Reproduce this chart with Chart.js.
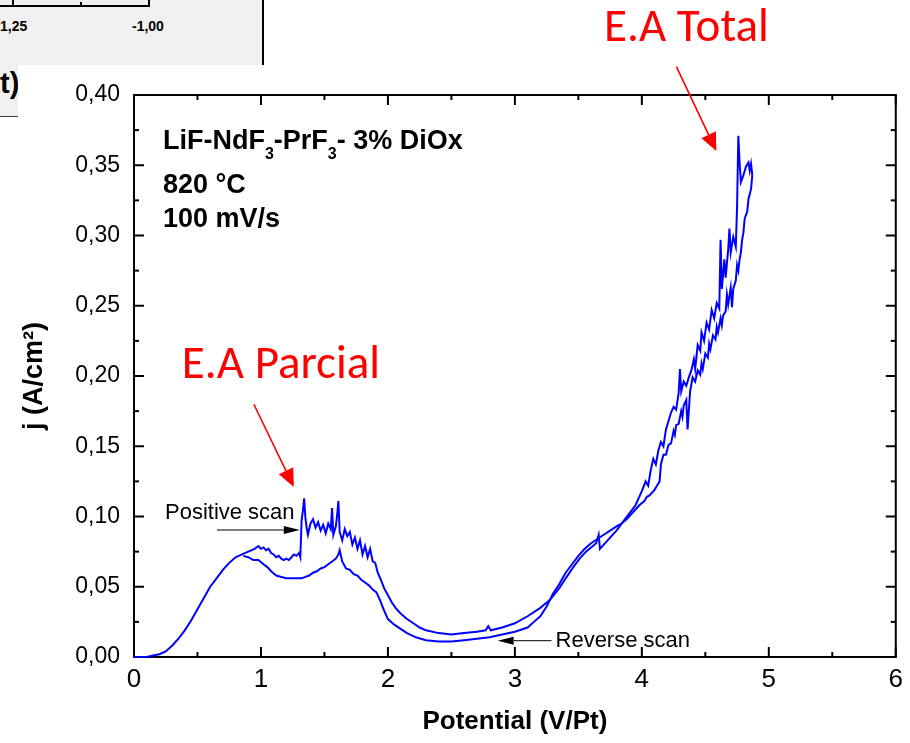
<!DOCTYPE html>
<html>
<head>
<meta charset="utf-8">
<title>LiF-NdF3-PrF3 voltammogram</title>
<script src="https://cdn.jsdelivr.net/npm/chart.js@4.4.0/dist/chart.umd.min.js"></script>
<style>
  body { margin: 0; background: #fff; }
  #wrap { position: relative; width: 910px; height: 743px; overflow: hidden; }
  #cvChart { position: absolute; left: 0; top: 0; }
  .frag { position: absolute; background: #f0f0f0; overflow: hidden; font-family: "Liberation Sans", Arial, sans-serif; font-weight: bold; color: #000; }
  .frag-top { left: 0; top: 0; width: 262px; height: 65px; border-right: 2px solid #000; }
  .frag-axis { position: absolute; left: 0; top: 5px; width: 150px; height: 2px; background: #000; }
  .frag-tick { position: absolute; top: 0; width: 2px; height: 7px; background: #000; }
  .frag-lbl { position: absolute; top: 18px; font-size: 14px; }
  .frag-side { left: 0; top: 65px; width: 18px; height: 51px; border-bottom: 1px solid #444; }
  .frag-side span { position: absolute; left: 0; top: 2px; font-size: 29px; }
</style>
</head>
<body>
<div id="wrap">
  <canvas id="cvChart" width="910" height="743"></canvas>
  <!-- edge of the neighbouring figure that was caught in the screenshot -->
  <div class="frag frag-top">
    <div class="frag-axis"></div>
    <span class="frag-tick" style="left:12px"></span>
    <span class="frag-tick" style="left:80px; top:2px; height:5px"></span>
    <span class="frag-tick" style="left:148px"></span>
    <span class="frag-lbl" style="left:0">1,25</span>
    <span class="frag-lbl" style="left:132px">-1,00</span>
  </div>
  <div class="frag frag-side"><span>t)</span></div>
</div>
<script>
// potential (V/Pt) and current density (A/cm2), positive scan
const fwdV = [0.00, 0.10, 0.15, 0.20, 0.25, 0.30, 0.35, 0.40, 0.45, 0.50, 0.55, 0.60, 0.65, 0.70, 0.75, 0.80, 0.85, 0.90, 0.95, 0.98,
  1.00, 1.02, 1.04, 1.06, 1.08, 1.10, 1.12, 1.14, 1.16, 1.18, 1.20, 1.22, 1.24, 1.26, 1.28, 1.30, 1.31, 1.32, 1.33, 1.34,
  1.35, 1.36, 1.37, 1.39, 1.41, 1.43, 1.45, 1.47, 1.49, 1.51, 1.53, 1.55, 1.56, 1.57, 1.59, 1.60, 1.61, 1.62, 1.64, 1.66,
  1.68, 1.70, 1.72, 1.74, 1.76, 1.78, 1.80, 1.82, 1.84, 1.86, 1.88, 1.90, 1.92, 1.94, 1.97, 2.00, 2.03, 2.06, 2.10, 2.15,
  2.20, 2.25, 2.30, 2.40, 2.50, 2.60, 2.70, 2.77, 2.79, 2.81, 2.90, 3.00, 3.10, 3.20, 3.28, 3.35, 3.40, 3.46, 3.51, 3.56,
  3.60, 3.64, 3.66, 3.67, 3.70, 3.75, 3.80, 3.85, 3.90, 3.95, 4.00, 4.03, 4.05, 4.07, 4.09, 4.11, 4.13, 4.15, 4.17, 4.19,
  4.21, 4.23, 4.25, 4.27, 4.29, 4.30, 4.31, 4.33, 4.35, 4.37, 4.39, 4.41, 4.42, 4.44, 4.46, 4.47, 4.49, 4.51, 4.53, 4.55,
  4.57, 4.59, 4.61, 4.62, 4.63, 4.65, 4.66, 4.68, 4.69, 4.70, 4.72, 4.74, 4.75, 4.76, 4.77, 4.78, 4.80, 4.82, 4.84, 4.85,
  4.86, 4.87];
const fwdJ = [0.000, 0.000, 0.001, 0.002, 0.004, 0.008, 0.013, 0.019, 0.026, 0.034, 0.042, 0.050, 0.056, 0.062, 0.067, 0.071, 0.073, 0.075, 0.077, 0.079,
  0.077, 0.078, 0.076, 0.077, 0.074, 0.073, 0.071, 0.072, 0.070, 0.069, 0.070, 0.069, 0.071, 0.073, 0.072, 0.074, 0.071, 0.097, 0.104, 0.113,
  0.099, 0.092, 0.087, 0.095, 0.098, 0.092, 0.096, 0.090, 0.094, 0.088, 0.095, 0.091, 0.106, 0.087, 0.093, 0.101, 0.111, 0.089, 0.083, 0.091,
  0.086, 0.089, 0.080, 0.085, 0.077, 0.083, 0.073, 0.079, 0.071, 0.077, 0.068, 0.067, 0.060, 0.056, 0.049, 0.044, 0.039, 0.035, 0.031, 0.027,
  0.024, 0.021, 0.019, 0.017, 0.016, 0.017, 0.018, 0.019, 0.022, 0.019, 0.021, 0.024, 0.029, 0.035, 0.041, 0.049, 0.056, 0.064, 0.070, 0.075,
  0.078, 0.081, 0.087, 0.077, 0.080, 0.085, 0.090, 0.096, 0.102, 0.108, 0.118, 0.125, 0.122, 0.133, 0.141, 0.137, 0.147, 0.153, 0.150, 0.162,
  0.168, 0.174, 0.178, 0.176, 0.188, 0.205, 0.189, 0.196, 0.193, 0.199, 0.204, 0.212, 0.205, 0.222, 0.218, 0.231, 0.225, 0.238, 0.233, 0.247,
  0.241, 0.252, 0.248, 0.297, 0.262, 0.283, 0.270, 0.290, 0.305, 0.288, 0.299, 0.292, 0.320, 0.371, 0.352, 0.338, 0.343, 0.349, 0.352, 0.346,
  0.351, 0.343];

// reverse scan, from the vertex back down
const revV = [4.87, 4.86, 4.84, 4.83, 4.81, 4.80, 4.79, 4.78, 4.77, 4.76,
  4.75, 4.74, 4.72, 4.71, 4.70, 4.68, 4.67, 4.66, 4.64, 4.63,
  4.62, 4.60, 4.59, 4.58, 4.56, 4.54, 4.53, 4.52, 4.50, 4.48,
  4.47, 4.46, 4.44, 4.42, 4.40, 4.38, 4.37, 4.36, 4.35, 4.33,
  4.32, 4.31, 4.29, 4.27, 4.26, 4.25, 4.23, 4.21, 4.19, 4.17,
  4.15, 4.14, 4.12, 4.10, 4.08, 4.06, 4.04, 4.02, 3.98, 3.93,
  3.88, 3.84, 3.80, 3.75, 3.70, 3.65, 3.60, 3.55, 3.50, 3.45,
  3.40, 3.35, 3.30, 3.25, 3.20, 3.15, 3.10, 3.00, 2.90, 2.80,
  2.70, 2.60, 2.50, 2.40, 2.30, 2.22, 2.15, 2.10, 2.05, 2.00,
  1.97, 1.94, 1.91, 1.88, 1.85, 1.82, 1.79, 1.76, 1.73, 1.70,
  1.67, 1.64, 1.62, 1.61, 1.59, 1.56, 1.53, 1.50, 1.47, 1.44,
  1.41, 1.38, 1.35, 1.32, 1.28, 1.24, 1.20, 1.16, 1.12, 1.08,
  1.05, 1.02, 0.98, 0.94, 0.90, 0.86];
const revJ = [0.343, 0.333, 0.326, 0.317, 0.312, 0.302, 0.297, 0.288, 0.283, 0.275,
  0.279, 0.268, 0.262, 0.249, 0.263, 0.251, 0.258, 0.246, 0.243, 0.236,
  0.241, 0.231, 0.235, 0.226, 0.229, 0.219, 0.223, 0.213, 0.216, 0.205,
  0.209, 0.201, 0.204, 0.196, 0.199, 0.189, 0.175, 0.162, 0.183, 0.179,
  0.171, 0.175, 0.166, 0.165, 0.158, 0.161, 0.152, 0.151, 0.144, 0.144,
  0.137, 0.125, 0.122, 0.119, 0.117, 0.115, 0.114, 0.111, 0.108, 0.103,
  0.098, 0.095, 0.093, 0.090, 0.087, 0.084, 0.081, 0.077, 0.072, 0.066,
  0.060, 0.052, 0.045, 0.036, 0.029, 0.025, 0.021, 0.018, 0.016, 0.014,
  0.013, 0.012, 0.011, 0.011, 0.012, 0.014, 0.017, 0.020, 0.023, 0.027,
  0.033, 0.040, 0.046, 0.048, 0.051, 0.053, 0.055, 0.058, 0.059, 0.062,
  0.063, 0.068, 0.076, 0.073, 0.070, 0.068, 0.066, 0.064, 0.063, 0.061,
  0.060, 0.058, 0.057, 0.056, 0.056, 0.056, 0.056, 0.057, 0.058, 0.061,
  0.064, 0.066, 0.069, 0.069, 0.071, 0.072];

const xTicks = [0, 1, 2, 3, 4, 5, 6];
const xTickLabels = ['0', '1', '2', '3', '4', '5', '6'];
const yTicks = [0, 0.05, 0.10, 0.15, 0.20, 0.25, 0.30, 0.35, 0.40];
const yTickLabels = ['0,00', '0,05', '0,10', '0,15', '0,20', '0,25', '0,30', '0,35', '0,40'];

const ARIAL = '"Liberation Sans", Arial, sans-serif';
const CALIBRI = 'Carlito, Calibri, Lato, sans-serif';
const BLUE = '#0000ff';

// box with inward ticks on all four sides, like the Origin frame
const frameTicks = {
  id: 'frameTicks',
  beforeDatasetsDraw(chart) {
    const { ctx, chartArea: a, scales: { x, y } } = chart;
    ctx.save();
    ctx.strokeStyle = '#000';
    ctx.lineWidth = 2;
    ctx.strokeRect(a.left, a.top, a.right - a.left, a.bottom - a.top);
    const tick = (x0, y0, x1, y1) => {
      ctx.beginPath();
      ctx.moveTo(x0, y0);
      ctx.lineTo(x1, y1);
      ctx.stroke();
    };
    xTicks.forEach((v, i) => {
      const px = x.getPixelForValue(v);
      tick(px, a.bottom, px, a.bottom - 10);
      tick(px, a.top, px, a.top + 10);
      if (i < xTicks.length - 1) {
        const pm = x.getPixelForValue((v + xTicks[i + 1]) / 2);
        tick(pm, a.bottom, pm, a.bottom - 5);
        tick(pm, a.top, pm, a.top + 5);
      }
    });
    yTicks.forEach((v, i) => {
      const py = y.getPixelForValue(v);
      tick(a.left, py, a.left + 10, py);
      tick(a.right, py, a.right - 10, py);
      if (i < yTicks.length - 1) {
        const pm = y.getPixelForValue((v + yTicks[i + 1]) / 2);
        tick(a.left, pm, a.left + 5, pm);
        tick(a.right, pm, a.right - 5, pm);
      }
    });
    ctx.restore();
  }
};

function arrow(ctx, x0, y0, x1, y1, color, width, headLen, headHalf) {
  const ang = Math.atan2(y1 - y0, x1 - x0);
  const bx = x1 - headLen * Math.cos(ang);
  const by = y1 - headLen * Math.sin(ang);
  ctx.strokeStyle = color;
  ctx.fillStyle = color;
  ctx.lineWidth = width;
  ctx.beginPath();
  ctx.moveTo(x0, y0);
  ctx.lineTo(bx, by);
  ctx.stroke();
  ctx.beginPath();
  ctx.moveTo(x1, y1);
  ctx.lineTo(bx + headHalf * Math.sin(ang), by - headHalf * Math.cos(ang));
  ctx.lineTo(bx - headHalf * Math.sin(ang), by + headHalf * Math.cos(ang));
  ctx.closePath();
  ctx.fill();
}

// text and arrows placed in data units
const notes = {
  id: 'notes',
  afterDraw(chart) {
    const { ctx, scales: { x, y } } = chart;
    const X = v => x.getPixelForValue(v);
    const Y = v => y.getPixelForValue(v);
    ctx.save();
    ctx.textBaseline = 'alphabetic';
    ctx.textAlign = 'left';

    // experiment conditions, with subscripts
    ctx.fillStyle = '#000';
    let cx = X(0.228);
    const parts = [['LiF-NdF', 0], ['3', 1], ['-PrF', 0], ['3', 1], ['- 3% DiOx', 0]];
    parts.forEach(([t, sub]) => {
      ctx.font = sub ? 'bold 16px ' + ARIAL : 'bold 27px ' + ARIAL;
      ctx.fillText(t, cx, sub ? Y(0.3618) + 10 : Y(0.3618));
      cx += ctx.measureText(t).width;
    });
    ctx.font = 'bold 27px ' + ARIAL;
    ctx.fillText('820 °C', X(0.228), Y(0.3305));
    ctx.fillText('100 mV/s', X(0.228), Y(0.3064));

    // scan direction labels
    ctx.font = '22px ' + ARIAL;
    ctx.fillText('Positive scan', X(0.244), Y(0.098));
    ctx.fillText('Reverse scan', X(3.32), Y(0.0073));
    arrow(ctx, X(0.653), Y(0.0904), X(1.306), Y(0.0904), '#000', 1, 16, 4);
    arrow(ctx, X(3.289), Y(0.0116), X(2.864), Y(0.0116), '#000', 1, 16, 4);

    // red callouts
    ctx.fillStyle = '#ff0000';
    ctx.textAlign = 'center';
    ctx.textBaseline = 'middle';
    ctx.font = '47px ' + CALIBRI;
    ctx.fillText('E.A Total', X(4.351), Y(0.4469));
    ctx.fillText('E.A Parcial', X(1.157), Y(0.2068));
    arrow(ctx, X(4.272), Y(0.4202), X(4.587), Y(0.3601), '#ff0000', 1.6, 18, 8);
    arrow(ctx, X(0.944), Y(0.1799), X(1.259), Y(0.1210), '#ff0000', 1.6, 18, 8);
    ctx.restore();
  }
};

const toPoints = (vs, js) => vs.map((v, i) => ({ x: v, y: js[i] }));
const scanStyle = { showLine: true, borderColor: BLUE, backgroundColor: BLUE, borderWidth: 2, pointRadius: 0, tension: 0, clip: false };

new Chart(document.getElementById('cvChart'), {
  type: 'scatter',
  data: {
    datasets: [
      { label: 'Positive scan', data: toPoints(fwdV, fwdJ), ...scanStyle },
      { label: 'Reverse scan', data: toPoints(revV, revJ), ...scanStyle }
    ]
  },
  options: {
    responsive: false,
    animation: false,
    devicePixelRatio: 1,
    layout: { padding: { top: 95, right: 13, left: 0, bottom: 0 } },
    plugins: { legend: { display: false }, tooltip: { enabled: false } },
    scales: {
      x: {
        type: 'linear',
        min: 0,
        max: 6,
        afterBuildTicks: s => { s.ticks = xTicks.map(v => ({ value: v })); },
        afterFit: s => { s.height = 86; },
        ticks: {
          callback: (v, i) => xTickLabels[i],
          font: { family: ARIAL, size: 26 },
          color: '#000',
          padding: 7,
          maxRotation: 0,
          autoSkip: false
        },
        grid: { display: false, drawTicks: false },
        border: { display: false },
        title: {
          display: true,
          text: 'Potential (V/Pt)',
          font: { family: ARIAL, size: 26, weight: 'bold' },
          color: '#000',
          padding: { top: 0, bottom: 6 }
        }
      },
      y: {
        type: 'linear',
        min: 0,
        max: 0.4,
        afterBuildTicks: s => { s.ticks = yTicks.map(v => ({ value: v })); },
        afterFit: s => { s.width = 134; },
        ticks: {
          callback: (v, i) => yTickLabels[i],
          font: { family: ARIAL, size: 23 },
          color: '#000',
          padding: 14,
          autoSkip: false
        },
        grid: { display: false, drawTicks: false },
        border: { display: false },
        title: {
          display: true,
          text: 'j (A/cm²)',
          font: { family: ARIAL, size: 27, weight: 'bold' },
          color: '#000',
          padding: { top: 18, bottom: 0 }
        }
      }
    }
  },
  plugins: [frameTicks, notes]
});
</script>
</body>
</html>
